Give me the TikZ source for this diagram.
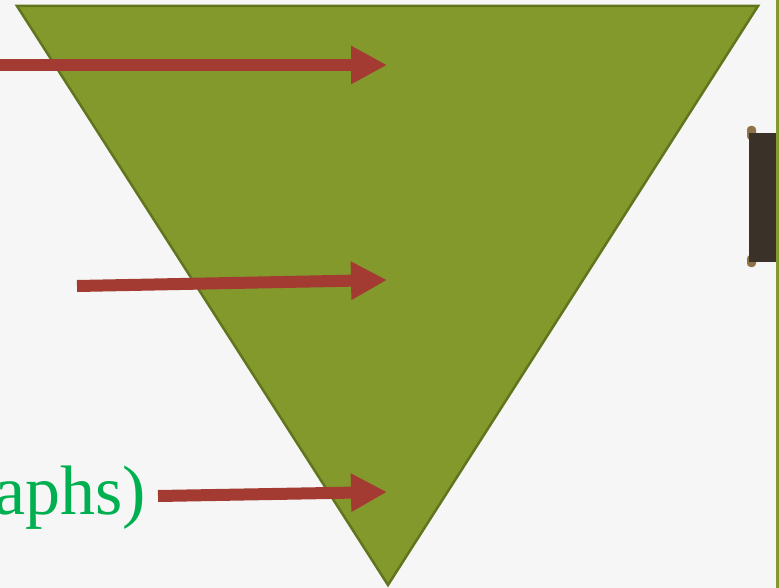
\documentclass[tikz,border=0pt]{standalone}
\usepackage{fontspec}
\setmainfont{Liberation Serif}
\usetikzlibrary{arrows.meta}
\definecolor{bg}{HTML}{F6F6F6}
\definecolor{trifill}{HTML}{84992C}
\definecolor{triedge}{HTML}{61751F}
\definecolor{arrowred}{HTML}{A33B33}
\definecolor{txtgreen}{HTML}{00B050}
\definecolor{scrolldark}{HTML}{3A3129}
\definecolor{scrollcap}{HTML}{8E7248}
\definecolor{edgegreen}{HTML}{84992C}
\tikzset{
  bigarrow/.style={draw=arrowred, line width=12pt, -{Triangle[length=36pt,width=36pt,fill=arrowred]}},
  label/.style={font=\fontsize{70}{76}\selectfont, text=txtgreen, inner sep=0pt}
}
\begin{document}
\begin{tikzpicture}[x=1pt,y=-1pt]
\path[use as bounding box, fill=bg] (0,0) rectangle (779,588);
\begin{scope}
\clip (0,0) rectangle (779,588);
% scroll on right
\fill[scrollcap, rounded corners=3.5pt] (747,126) rectangle (756,140);
\fill[scrollcap, rounded corners=3.5pt] (747,255) rectangle (756,267);
\fill[scrolldark] (749,133) rectangle (779,262);
\fill[edgegreen] (776,0) rectangle (779,588);
% triangle
\coordinate (tl) at (17,6);
\coordinate (tr) at (758,6);
\coordinate (bt) at (388,585);
\filldraw[fill=trifill, draw=triedge, line width=2.5pt, line join=miter] (tl) -- (tr) -- (bt) -- cycle;
% text
\node[label, anchor=base east] (txt) at (146,514) {aphs)};
% arrows
\coordinate (a1s) at (-5,65);
\coordinate (a1e) at (387,65);
\coordinate (a2s) at (77,286);
\coordinate (a2e) at (387,280);
\coordinate (a3s) at (158,496);
\coordinate (a3e) at (387,492);
\draw[bigarrow] (a1s) -- (a1e);
\draw[bigarrow] (a2s) -- (a2e);
\draw[bigarrow] (a3s) -- (a3e);
\end{scope}
\end{tikzpicture}
\end{document}
